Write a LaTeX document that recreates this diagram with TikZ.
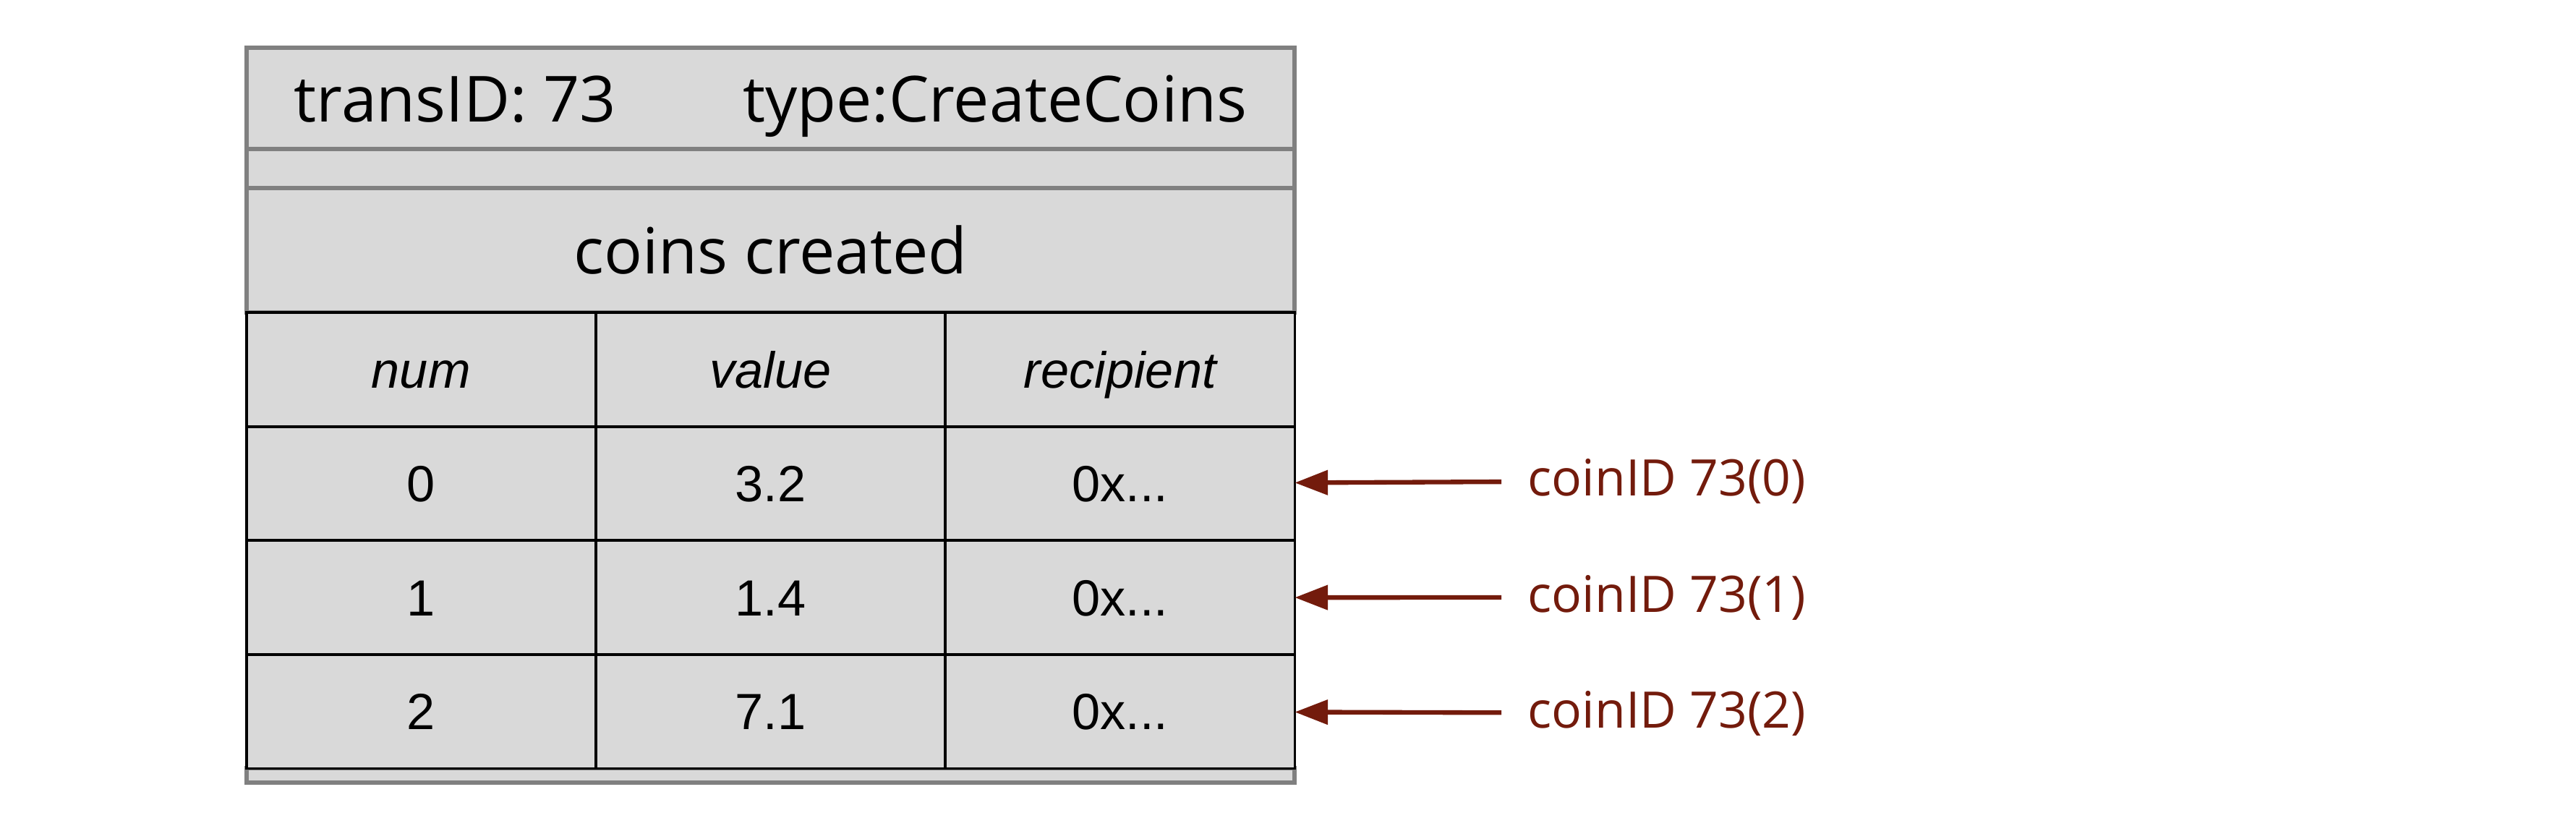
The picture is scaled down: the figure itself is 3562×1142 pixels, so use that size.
\documentclass[tikz,border=0pt]{standalone}
\usepackage{fontspec}
\setmainfont{Liberation Sans}
\newfontfamily\hdrfont{Open Sans}
\usetikzlibrary{arrows.meta, positioning}
\definecolor{LedgerGray}{RGB}{217, 217, 217}
\definecolor{LedgerEdge}{RGB}{128, 128, 128}
\definecolor{CoinRed}{RGB}{115, 27, 12}

\begin{document}
\begin{tikzpicture}[
        x=0.01cm, y=-0.01cm,
        band/.style={rectangle, draw=LedgerEdge, fill=LedgerGray, line width=1.7pt, minimum width=14.49cm, inner sep=0pt, outer sep=0pt, text height=18.2pt, text depth=0pt, font=\hdrfont\fontsize{25}{29}\selectfont},
        strip/.style={band, text height=0pt},
        cell/.style={rectangle, draw=black, fill=LedgerGray, line width=1.1pt, minimum width=4.83cm, minimum height=1.575cm, inner sep=0pt, outer sep=0pt, text height=14.3pt, text depth=0pt, font=\fontsize{20}{24}\selectfont},
        colhead/.style={cell, font=\itshape\fontsize{20}{24}\selectfont},
        coinlabel/.style={text=CoinRed, anchor=west, inner xsep=10.2pt, font=\hdrfont\fontsize{19.8}{23}\selectfont},
        coinarrow/.style={-{Triangle[length=13pt, width=9.5pt]}, line width=1.8pt, CoinRed}
    ]
        \useasboundingbox (0,0) rectangle (3562,1142);

        % Header bands
        \node[band, minimum height=1.40cm] (hdr) at (1065.5,136) {transID: 73\hspace{1.75cm}type:CreateCoins};
        \node[strip, minimum height=0.54cm, below=0pt of hdr] (gap) {};
        \node[band, minimum height=1.72cm, below=0pt of gap] (title) {coins created};
        \node[strip, minimum height=0.20cm] (foot) at (1065.5,1072) {};

        % Table
        \node[colhead, anchor=north west] (hnum) at (title.south west) {num};
        \node[colhead, right=0pt of hnum] (hval) {value};
        \node[colhead, right=0pt of hval] (hrec) {recipient};

        \node[cell, below=0pt of hnum] (num0) {0};
        \node[cell, right=0pt of num0] (val0) {3.2};
        \node[cell, right=0pt of val0] (rec0) {0x...};

        \node[cell, below=0pt of num0] (num1) {1};
        \node[cell, right=0pt of num1] (val1) {1.4};
        \node[cell, right=0pt of val1] (rec1) {0x...};

        \node[cell, below=0pt of num1] (num2) {2};
        \node[cell, right=0pt of num2] (val2) {7.1};
        \node[cell, right=0pt of val2] (rec2) {0x...};

        % Coin IDs
        \node[coinlabel] (coin0) at (2076,665) {coinID 73(0)};
        \node[coinlabel] (coin1) at (2076,826) {coinID 73(1)};
        \node[coinlabel] (coin2) at (2076,986) {coinID 73(2)};

        \draw[coinarrow] (coin0) -- (rec0);
        \draw[coinarrow] (coin1) -- (rec1);
        \draw[coinarrow] (coin2) -- (rec2);

    \end{tikzpicture}
\end{document}
